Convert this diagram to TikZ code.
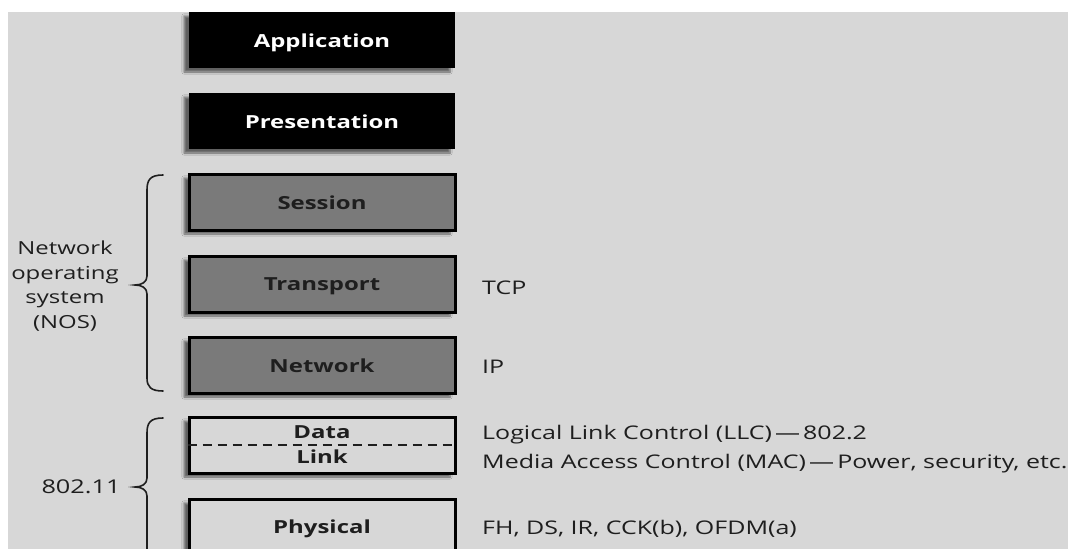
\documentclass[tikz,border=0pt]{standalone}
\usepackage{fontspec}
\setmainfont{Open Sans}[FakeStretch=1.33]
\usetikzlibrary{shadows.blur}

\definecolor{paper}{HTML}{D7D7D7}
\definecolor{midgray}{HTML}{7A7A7A}
\definecolor{inkgray}{HTML}{1E1E1E}

\tikzset{
  layer/.style={minimum width=266pt, minimum height=56pt, inner sep=0pt,
    blur shadow={shadow xshift=-5pt, shadow yshift=-4pt, shadow blur steps=6, shadow opacity=55}},
  upperlayer/.style={layer, fill=black},
  noslayer/.style={layer, fill=midgray, draw=black, line width=3pt},
  linklayer/.style={layer, fill=paper, draw=black, line width=3pt},
  laytext/.style={anchor=base, inner sep=0pt, text=inkgray, font=\bfseries\fontsize{18}{21}\selectfont},
  side/.style={anchor=base west, inner sep=0pt, text=inkgray, font=\fontsize{18.8}{22}\selectfont},
  brace/.style={line width=1.6pt, draw=inkgray, line cap=round}
}

\begin{document}
\begin{tikzpicture}[x=1pt, y=-1pt]
  \useasboundingbox (0,0) rectangle (1069,549);
  \fill[white] (0,0) rectangle (1069,549);
  \fill[paper] (8,12) rectangle (1068,549);
  \clip (8,12) rectangle (1068,549);

  % protocol layers
  \node[upperlayer] (app)   at (322,40)  {};
  \node[upperlayer] (pres)  at (322,121) {};
  \node[noslayer]   (sess)  at (322,202) {};
  \node[noslayer]   (trans) at (322,284) {};
  \node[noslayer]   (net)   at (322,365) {};
  \node[linklayer]  (dl)    at (322,445) {};
  \node[linklayer, minimum height=60pt] (phys) at (322,529) {};

  % data link split into LLC / MAC
  \draw[line width=2.5pt, dash pattern=on 9pt off 6pt, draw=inkgray]
    (dl.west) -- (dl.east);

  % layer names
  \node[laytext, text=white] (appt)   at (322,47.5)  {Application};
  \node[laytext, text=white] (prest)  at (322,128.5) {Presentation};
  \node[laytext] (sesst)  at (322,209.5) {Session};
  \node[laytext] (transt) at (322,290.5) {Transport};
  \node[laytext] (nett)   at (322,372.5) {Network};
  \node[laytext] (data)   at (322,438.5) {Data};
  \node[laytext] (link)   at (322,463.5) {Link};
  \node[laytext] (physt)  at (322,533)   {Physical};

  % protocols per layer
  \node[side] (tcp) at (482,294) {TCP};
  \node[side] (ip)  at (482,373) {IP};
  \node[side] (llc) at (482,439) {Logical Link Control (LLC)\,—\,802.2};
  \node[side] (mac) at (482,468) {Media Access Control (MAC)\,—\,Power, security, etc.};
  \node[side] (phy) at (482,534) {FH, DS, IR, CCK(b), OFDM(a)};

  % braces
  \draw[brace] (163,175) .. controls (150,175) and (147,180) .. (147,190)
    -- (147,276) .. controls (147,282) and (142,285) .. (135,285)
    .. controls (142,285) and (147,288) .. (147,294)
    -- (147,378) .. controls (147,387) and (151,391) .. (163,391);
  \draw[brace] (163,418) .. controls (150,418) and (147,423) .. (147,433)
    -- (147,478) .. controls (147,484) and (142,487) .. (135,487)
    .. controls (142,487) and (147,490) .. (147,496)
    -- (147,560);

  \node[align=center, text=inkgray, font=\fontsize{18}{24.5}\selectfont, inner sep=0pt,
        anchor=north] (nos) at (65,241) {Network\\operating\\system\\(NOS)};
  \node[anchor=base, text=inkgray, font=\fontsize{19}{22}\selectfont, inner sep=0pt]
    (wifi) at (81,493) {802.11};
\end{tikzpicture}
\end{document}
